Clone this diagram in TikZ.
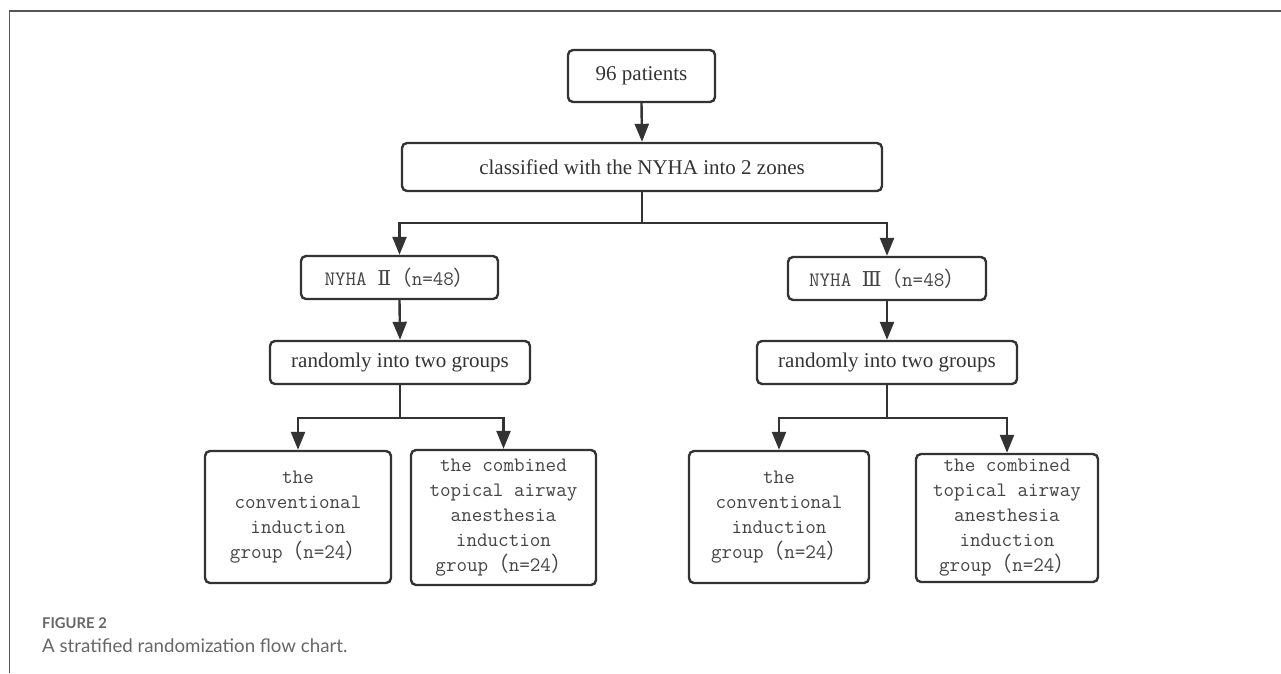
\documentclass[tikz,border=0pt]{standalone}
\usepackage{fontspec}
\setmainfont{Liberation Serif}
\newfontfamily\cjk{Noto Sans CJK SC}
\newfontfamily\romf{DejaVu Serif}
\newfontfamily\capf{Lato}
\usetikzlibrary{arrows.meta}
\definecolor{linec}{HTML}{333333}
\definecolor{textc}{HTML}{333333}
\definecolor{monoc}{HTML}{444444}
\definecolor{framec}{HTML}{555555}
\definecolor{capc}{HTML}{666666}
\newcommand\flp{{\cjk （}}
\newcommand\frp{{\cjk ）}}
\begin{document}
\begin{tikzpicture}[x=1pt,y=-1pt,
  box/.style={draw=linec, line width=2.4pt, rounded corners=5pt, inner sep=0pt, align=center},
  ser/.style={font=\fontsize{21}{25}\selectfont, text=textc},
  mono/.style={font=\ttfamily\fontsize{20.5}{25}\selectfont, text=monoc},
  conn/.style={draw=linec, line width=2.4pt},
  arr/.style={conn, -{Triangle[length=18pt,width=14pt]}}]
\useasboundingbox (0,0) rectangle (1281,673);
\draw[framec, line width=1.3pt] (9.5,673) -- (9.5,11) -- (1281,11);

\node[box,ser,minimum width=147pt,minimum height=52pt] (p96) at (641.5,76) {96 patients};
\node[box,ser,minimum width=480pt,minimum height=48pt] (cls) at (642,167) {classified with the NYHA into 2 zones};

\node[box,mono,minimum width=197pt,minimum height=43pt] (n2) at (399.5,277.5) {NYHA {\romf Ⅱ}\flp n=48\frp};
\node[box,mono,minimum width=198pt,minimum height=43pt] (n3) at (887,278.5) {NYHA {\romf Ⅲ}\flp n=48\frp};

\node[box,ser,minimum width=260pt,minimum height=43pt] (r2) at (400,362.5) {randomly into two groups};
\node[box,ser,minimum width=260pt,minimum height=43pt] (r3) at (887,362.5) {randomly into two groups};

\node[box,mono,minimum width=186pt,minimum height=132pt] (a1) at (298,517) {the\\conventional\\induction\\group\flp n=24\frp};
\node[box,mono,minimum width=185pt,minimum height=135pt] (a2) at (503.5,517.5) {the combined\\topical airway\\anesthesia\\induction\\group\flp n=24\frp};
\node[box,mono,minimum width=180pt,minimum height=132pt] (b1) at (779,517) {the\\conventional\\induction\\group\flp n=24\frp};
\node[box,mono,minimum width=182pt,minimum height=128pt] (b2) at (1007,518) {the combined\\topical airway\\anesthesia\\induction\\group\flp n=24\frp};

\coordinate (j1) at (642,223);
\coordinate (j2) at (400,418);
\coordinate (j3) at (887,418);

\draw[arr] (p96.south) -- (cls.north);
\draw[conn] (cls.south) -- (j1);
\draw[arr] (j1) -| (n2.north);
\draw[arr] (j1) -| (n3.north);
\draw[arr] (n2.south) -- (r2.north);
\draw[arr] (n3.south) -- (r3.north);
\draw[conn] (r2.south) -- (j2);
\draw[arr] (j2) -| (a1.north);
\draw[arr] (j2) -| (a2.north);
\draw[conn] (r3.south) -- (j3);
\draw[arr] (j3) -| (b1.north);
\draw[arr] (j3) -| (b2.north);

\node[anchor=west, inner sep=0pt, font=\capf\bfseries\fontsize{14.8}{16}\selectfont, text=capc] (fig) at (42,623) {FIGURE 2};
\node[anchor=west, inner sep=0pt, font=\capf\fontsize{18.7}{20}\selectfont, text=capc] (cap) at (42,646) {A stratified randomization flow chart.};
\end{tikzpicture}
\end{document}
